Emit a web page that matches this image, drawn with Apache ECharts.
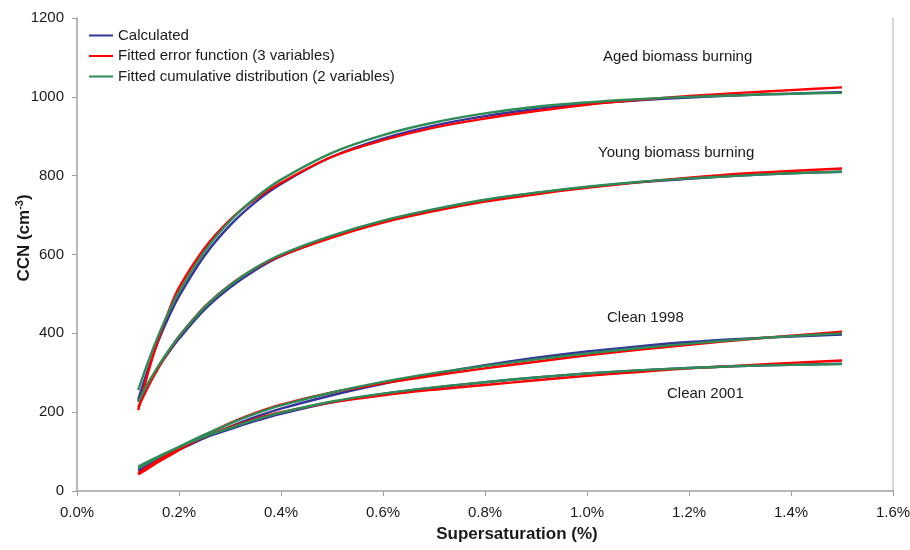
<!DOCTYPE html>
<html><head><meta charset="utf-8">
<script src="https://cdn.jsdelivr.net/npm/echarts@6/dist/echarts.min.js"></script>
<style>html,body{margin:0;padding:0;background:#fff}#c{width:910px;height:550px}</style>
</head><body><div id="c"></div>
<script>
// Supersaturation (%)
var xs = [0.12, 0.14, 0.16, 0.18, 0.2, 0.25, 0.3, 0.35, 0.4, 0.5, 0.6, 0.7, 0.8, 0.9, 1.0, 1.1, 1.2, 1.3, 1.4, 1.5];
var xTicks = [0, 0.2, 0.4, 0.6, 0.8, 1.0, 1.2, 1.4, 1.6];
var yTicks = [0, 200, 400, 600, 800, 1000, 1200];

var agedCalc  = [232, 312, 382, 442, 494, 597, 674, 733, 779, 848, 894, 927, 951, 969, 982, 991, 998, 1004, 1008, 1012];
var agedErf   = [205, 303, 387, 457, 516, 616, 688, 741, 782, 848, 890, 922, 945, 964, 980, 992, 1002, 1010, 1017, 1024];
var agedCum   = [256, 330, 396, 454, 505, 608, 685, 744, 790, 858, 903, 935, 958, 975, 986, 994, 1000, 1004, 1008, 1010];

var youngCalc = [228, 274, 315, 352, 386, 460, 516, 561, 596, 645, 684, 713, 738, 756, 771, 783, 792, 800, 806, 810];
var youngErf  = [212, 266, 313, 355, 392, 467, 523, 565, 597, 643, 681, 710, 734, 753, 769, 783, 795, 805, 812, 818];
var youngCum  = [226, 275, 318, 357, 392, 466, 522, 566, 600, 648, 686, 715, 739, 757, 772, 784, 793, 800, 806, 810];

var c98Calc   = [50, 64, 78, 91, 104, 135, 163, 188, 209, 243, 272, 297, 319, 338, 354, 367, 378, 386, 392, 397];
var c98Erf    = [42, 58, 74, 89, 104, 140, 172, 198, 219, 250, 273, 293, 311, 328, 344, 358, 371, 383, 394, 404];
var c98Cum    = [58, 72, 86, 99, 112, 143, 171, 196, 217, 250, 277, 299, 317, 334, 349, 362, 374, 384, 393, 400];

var c01Calc   = [55, 69, 83, 96, 108, 135, 157, 178, 196, 225, 246, 262, 276, 288, 298, 306, 312, 317, 320, 323];
var c01Erf    = [45, 62, 78, 93, 107, 138, 162, 183, 200, 225, 243, 257, 269, 281, 292, 302, 311, 318, 325, 331];
var c01Cum    = [62, 75, 88, 100, 111, 138, 160, 181, 199, 227, 247, 263, 276, 288, 298, 306, 312, 317, 320, 322];

var seriesNames = ['Calculated', 'Fitted error function (3 variables)', 'Fitted cumulative distribution (2 variables)'];
var colors = ['#333399', '#ff0000', '#2e8b57'];
var groups = [
  [agedCalc, agedErf, agedCum],
  [youngCalc, youngErf, youngCum],
  [c98Calc, c98Erf, c98Cum],
  [c01Calc, c01Erf, c01Cum]
];
var labels = [
  {text: 'Aged biomass burning', x: 603, y: 57},
  {text: 'Young biomass burning', x: 598, y: 153},
  {text: 'Clean 1998', x: 607, y: 318},
  {text: 'Clean 2001', x: 667, y: 394}
];

function pair(ys) { return xs.map(function (x, i) { return [x, ys[i]]; }); }

var series = [];
for (var k = 0; k < 3; k++) {
  for (var g = 0; g < groups.length; g++) {
    series.push({
      name: seriesNames[k], type: 'line', smooth: 0.35, symbol: 'none',
      data: pair(groups[g][k]),
      lineStyle: {color: colors[k], width: 2.4},
      itemStyle: {color: colors[k]},
      z: 2 + k
    });
  }
}

var FONT = 'Liberation Sans, Arial, sans-serif';
var TXT = '#1a1a1a';
var chart = echarts.init(document.getElementById('c'), null, {renderer: 'canvas'});
var axisCol = '#a0a0a0';
var graphics = labels.map(function (l) {
  return {type: 'text', x: l.x, y: l.y,
    style: {text: l.text, fontSize: 15, fill: TXT, fontFamily: FONT, align: 'left', verticalAlign: 'middle'}};
});
graphics.push({type: 'text', x: 517, y: 534,
  style: {text: 'Supersaturation (%)', fontSize: 17, fontWeight: 'bold', fill: TXT, fontFamily: FONT, align: 'center', verticalAlign: 'middle'}});
graphics.push({type: 'text', x: 24, y: 238, rotation: Math.PI / 2,
  style: {text: '{a|CCN (cm}{b|-3}{a|)}', align: 'center', verticalAlign: 'middle', fontFamily: FONT,
    rich: {
      a: {fontSize: 17, fontWeight: 'bold', fill: TXT, fontFamily: FONT},
      b: {fontSize: 11, fontWeight: 'bold', fill: TXT, fontFamily: FONT, verticalAlign: 'top', padding: [0, 0, 8, 0]}
    }}});

chart.setOption({
  animation: false,
  backgroundColor: '#fff',
  textStyle: {fontFamily: FONT},
  grid: {left: 77, right: 17, top: 18, bottom: 59, containLabel: false, outerBoundsMode: 'none'},
  legend: {
    orient: 'vertical', left: 89, top: 28, itemGap: 5.5, padding: 0,
    icon: 'rect', itemWidth: 24, itemHeight: 2,
    textStyle: {fontSize: 15, color: TXT, fontFamily: FONT},
    data: seriesNames
  },
  xAxis: {
    type: 'value', min: 0, max: 1.6, interval: 0.2,
    axisLine: {show: true, lineStyle: {color: axisCol, width: 1.5}},
    axisTick: {show: true, length: 5, lineStyle: {color: axisCol}},
    axisLabel: {fontSize: 15, color: TXT, margin: 14, fontFamily: FONT,
      formatter: function (v) { return v.toFixed(1) + '%'; }},
    splitLine: {show: false}
  },
  yAxis: [{
    type: 'value', min: 0, max: 1200, interval: 200,
    axisLine: {show: true, lineStyle: {color: axisCol, width: 1.5}},
    axisTick: {show: true, length: 5, lineStyle: {color: axisCol}},
    axisLabel: {fontSize: 15, color: TXT, margin: 13, fontFamily: FONT,
      formatter: function (v) { return String(v); }},
    splitLine: {show: false}
  }, {
    type: 'value', min: 0, max: 1200, interval: 200, position: 'right',
    axisLine: {show: true, lineStyle: {color: '#c8c8c8', width: 1.5}},
    axisTick: {show: false}, axisLabel: {show: false}, splitLine: {show: false}
  }],
  graphic: graphics,
  series: series
});
</script></body></html>
